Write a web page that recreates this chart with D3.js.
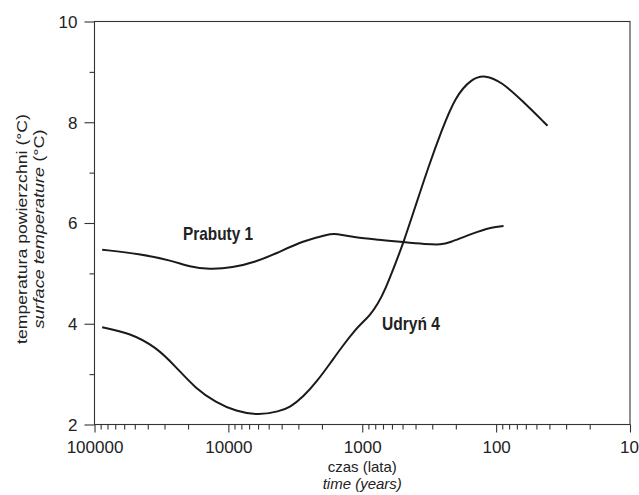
<!DOCTYPE html>
<html>
<head>
<meta charset="utf-8">
<script src="https://cdn.jsdelivr.net/npm/d3@7"></script>
<style>
  html, body { margin: 0; padding: 0; background: #fff; }
  svg { display: block; }
  .tick-label { font-family: "Liberation Sans", Arial, sans-serif; font-size: 17px; fill: #222; }
  .axis-title { font-family: "Liberation Sans", Arial, sans-serif; font-size: 15px; fill: #222; }
  .series-label { font-family: "Liberation Sans", Arial, sans-serif; font-size: 19px; font-weight: bold; fill: #222; }
</style>
</head>
<body>
<svg id="chart" width="639" height="495"></svg>
<script>
// Surface temperature reconstructions (°C) against time before present (years)
const prabutyYears = [87700, 46200, 26100, 19600, 13900, 9330, 6250, 4430, 2810, 1776, 1585, 1124, 758, 491, 338, 255, 227, 152, 108, 88];
const prabutyTemp  = [5.47, 5.39, 5.25, 5.13, 5.08, 5.11, 5.23, 5.39, 5.64, 5.78, 5.79, 5.71, 5.67, 5.62, 5.58, 5.57, 5.60, 5.79, 5.92, 5.94];

const udrynYears = [87700, 54900, 34700, 24600, 17500, 12400, 8800, 5900, 4190, 3465, 2756, 2189, 1741, 1385, 1100, 1010, 875, 759, 676, 566, 491, 402, 320, 255, 202, 152, 121, 91, 64.5, 41.3];
const udrynTemp  = [3.93, 3.82, 3.54, 3.14, 2.71, 2.44, 2.26, 2.18, 2.26, 2.34, 2.55, 2.85, 3.21, 3.58, 3.91, 4.01, 4.17, 4.41, 4.67, 5.19, 5.62, 6.32, 7.12, 7.84, 8.51, 8.87, 8.94, 8.80, 8.44, 7.93];

const seriesNames = ["Prabuty 1", "Udryń 4"];
const xMajorTicks = [100000, 10000, 1000, 100, 10];
const yMajorTicks = [2, 4, 6, 8, 10];
const yMinorTicks = [3, 5, 7, 9];

const svg = d3.select("#chart");
const plotLeft = 94.5, plotRight = 630, plotTop = 21.5, plotBottom = 424.5;

const x = d3.scaleLog().domain([100000, 10]).range([plotLeft, plotRight]);
const y = d3.scaleLinear().domain([2, 10]).range([plotBottom, plotTop]);

const axisColor = "#333";

// Minor log ticks: 2..9 within each decade
const xMinorTicks = [];
for (let d = 10; d < 100000; d *= 10) {
  for (let k = 2; k <= 9; k++) xMinorTicks.push(d * k);
}

// Frame
svg.append("rect")
  .attr("x", plotLeft).attr("y", plotTop)
  .attr("width", plotRight - plotLeft).attr("height", plotBottom - plotTop)
  .attr("fill", "none").attr("stroke", axisColor).attr("stroke-width", 1.1);

// Bottom axis (major ticks with labels)
const xAxis = d3.axisBottom(x)
  .tickValues(xMajorTicks)
  .tickFormat(d3.format("d"))
  .tickSize(8)
  .tickPadding(8);
const gx = svg.append("g").attr("transform", `translate(0,${plotBottom})`).call(xAxis);
gx.select(".domain").remove();
gx.selectAll("line").attr("stroke", axisColor).attr("stroke-width", 1.1);
gx.selectAll("text").attr("class", "tick-label").attr("fill", null);
// keep the rightmost label inside the page edge
gx.selectAll("text").filter(d => d === 10).attr("dx", "-1");

// Bottom axis minor ticks
const xMinor = d3.axisBottom(x).tickValues(xMinorTicks).tickFormat("").tickSize(5);
const gxm = svg.append("g").attr("transform", `translate(0,${plotBottom})`).call(xMinor);
gxm.select(".domain").remove();
gxm.selectAll("line").attr("stroke", axisColor).attr("stroke-width", 1.1);

// Left axis
const yAxis = d3.axisLeft(y).tickValues(yMajorTicks).tickFormat(d3.format("d")).tickSize(10).tickPadding(7);
const gy = svg.append("g").attr("transform", `translate(${plotLeft},0)`).call(yAxis);
gy.select(".domain").remove();
gy.selectAll("line").attr("stroke", axisColor).attr("stroke-width", 1.1);
gy.selectAll("text").attr("class", "tick-label").attr("fill", null).attr("dy", "0.34em");

const yMinor = d3.axisLeft(y).tickValues(yMinorTicks).tickFormat("").tickSize(5);
const gym = svg.append("g").attr("transform", `translate(${plotLeft},0)`).call(yMinor);
gym.select(".domain").remove();
gym.selectAll("line").attr("stroke", axisColor).attr("stroke-width", 1.1);

// Smooth curves through the reconstruction points
const line = d3.line()
  .x(d => x(d[0]))
  .y(d => y(d[1]))
  .curve(d3.curveBasis);

const series = [
  d3.zip(prabutyYears, prabutyTemp),
  d3.zip(udrynYears, udrynTemp)
];

svg.selectAll("path.series")
  .data(series)
  .enter().append("path")
  .attr("class", "series")
  .attr("d", line)
  .attr("fill", "none")
  .attr("stroke", "#1a1a1a")
  .attr("stroke-width", 2)
  .attr("stroke-linejoin", "round")
  .attr("stroke-linecap", "butt");

// Series labels (bold, condensed to fit)
svg.append("text").attr("class", "series-label")
  .attr("x", x(21800)).attr("y", y(5.66))
  .attr("textLength", 70).attr("lengthAdjust", "spacingAndGlyphs")
  .text(seriesNames[0]);
svg.append("text").attr("class", "series-label")
  .attr("x", x(712)).attr("y", y(3.88))
  .attr("textLength", 58).attr("lengthAdjust", "spacingAndGlyphs")
  .text(seriesNames[1]);

// X axis title
const cx = (plotLeft + plotRight) / 2;
svg.append("text").attr("class", "axis-title")
  .attr("x", cx).attr("y", 472).attr("text-anchor", "middle").text("czas (lata)");
svg.append("text").attr("class", "axis-title")
  .attr("x", cx).attr("y", 489).attr("text-anchor", "middle")
  .attr("font-style", "italic").text("time (years)");

// Y axis title (two rotated lines)
const cy = 229;
svg.append("text").attr("class", "axis-title")
  .attr("transform", `translate(27,${cy}) rotate(-90)`)
  .attr("text-anchor", "middle")
  .attr("textLength", 230).attr("lengthAdjust", "spacingAndGlyphs")
  .text("temperatura powierzchni (°C)");
const t2 = svg.append("text").attr("class", "axis-title")
  .attr("transform", `translate(44,${cy}) rotate(-90)`)
  .attr("text-anchor", "middle")
  .attr("textLength", 199).attr("lengthAdjust", "spacingAndGlyphs");
t2.append("tspan").attr("font-style", "italic").text("surface temperature");
t2.append("tspan").text(" (°C)");
</script>
</body>
</html>
